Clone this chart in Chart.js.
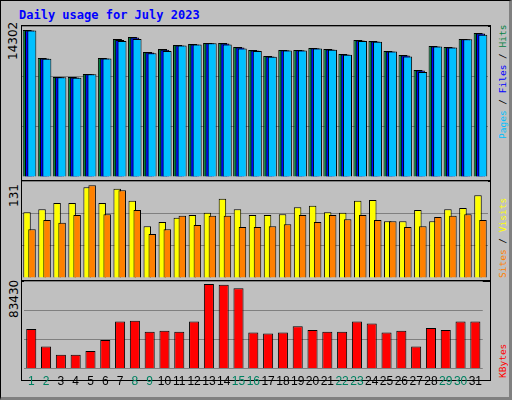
<!DOCTYPE html>
<html>
<head>
<meta charset="utf-8">
<script src="https://cdn.jsdelivr.net/npm/chart.js@4"></script>
<style>
  body { margin: 0; background: #fff; }
  #frame {
    position: absolute; left: 0; top: 0; width: 508px; height: 396px;
    background: #c0c0c0; border: 1px solid #000;
    border-right: 3px solid #808080; border-bottom: 3px solid #808080;
  }
  .panel { position: absolute; left: 20px; width: 470px; border: 1px solid #000; box-sizing: border-box; }
  canvas { position: absolute; }
  .title { position: absolute; left: 18px; top: 7px; font: bold 12px "DejaVu Sans Mono", monospace; color: #0000ff; }
  .vlab { position: absolute; transform: rotate(-90deg); transform-origin: left top; white-space: nowrap;
          font: 9.5px "DejaVu Sans Mono", monospace; }
</style>
</head>
<body>
<div id="frame">
  <div class="title">Daily usage for July 2023</div>
  <div class="panel" style="top:24px;height:157px;border-top-width:2px"></div>
  <div class="panel" style="top:179px;height:102px;border-top-width:2px"></div>
  <div class="panel" style="top:279px;height:101px;border-top-width:2px"></div>
  <div class="vlab" style="left:5px;top:59px;font-family:'DejaVu Sans';font-size:12px">14302</div>
  <div class="vlab" style="left:6px;top:206px;font-family:'DejaVu Sans';font-size:12px">131</div>
  <div class="vlab" style="left:6px;top:317px;font-family:'DejaVu Sans';font-size:12px">83430</div>
  <div class="vlab" style="left:496px;top:138px"><span style="color:#00c0ff">Pages</span> / <span style="color:#0000ff">Files</span> / <span style="color:#008040">Hits</span></div>
  <div class="vlab" style="left:496px;top:277px"><span style="color:#ff8000">Sites</span> / <span style="color:#ffff00">Visits</span></div>
  <div class="vlab" style="left:496px;top:377px;color:#ff0000">KBytes</div>
</div>
<canvas id="c1" style="left:22px;top:26px" width="466" height="151"></canvas>
<canvas id="c2" style="left:22px;top:181px" width="466" height="97"></canvas>
<canvas id="c3" style="left:22px;top:281px" width="466" height="114"></canvas>
<script>
const days = Array.from({ length: 31 }, (_, i) => String(i + 1));
const weekends = [1, 2, 8, 9, 15, 16, 22, 23, 29, 30];

const hits = [14302, 11580, 9730, 9730, 10020, 11580, 13430, 13620, 12160, 12450, 12840, 12940, 13040, 13040, 12650, 12360,
  11770, 12360, 12360, 12550, 12450, 11970, 13330, 13230, 12260, 11870, 10410, 12750, 12650, 13430, 14010];
const files = [14250, 11520, 9700, 9690, 9990, 11540, 13330, 13560, 12100, 12390, 12800, 12900, 13000, 12990, 12600, 12300,
  11720, 12320, 12320, 12520, 12410, 11920, 13270, 13180, 12220, 11830, 10350, 12700, 12600, 13390, 13950];
const pages = [14250, 11500, 9700, 9650, 9990, 11520, 13230, 13430, 12050, 12260, 12800, 12880, 13000, 12900, 12500, 12250,
  11700, 12300, 12300, 12500, 12380, 11900, 13230, 13150, 12200, 11720, 10220, 12700, 12600, 13390, 13850];
const visits = [93, 97, 106, 106, 128, 106, 126, 109, 73, 79, 85, 89, 92, 112, 97, 89, 89, 90, 100, 102, 93, 92, 109, 110,
  80, 80, 96, 80, 97, 99, 117];
const sites = [69, 82, 78, 89, 131, 90, 124, 96, 62, 69, 88, 75, 88, 88, 72, 72, 73, 76, 89, 79, 89, 83, 89, 82, 80, 72,
  73, 86, 88, 90, 82];
const kbytes = [39100, 21800, 13700, 13700, 17300, 28200, 46400, 47300, 36400, 37300, 36400, 46400, 83430, 82800, 79200,
  35500, 34600, 35500, 41900, 38200, 36400, 36400, 46400, 44600, 35500, 37300, 21800, 40000, 38200, 46400, 46400];

// webalizer draws the series of a day overlapping, each a few pixels to the right
const shiftBars = {
  id: 'shiftBars',
  afterDatasetsUpdate(chart) {
    chart.data.datasets.forEach((ds, i) => {
      chart.getDatasetMeta(i).data.forEach(el => { el.x += ds.dx || 0; });
    });
  }
};

function yAxis(max) {
  return {
    min: 0, max: max, border: { display: false },
    ticks: { display: false, stepSize: max / 3 },
    grid: { color: '#808080', lineWidth: 1, drawTicks: false }
  };
}

function bar(data, color, order, pct, dx) {
  return { data: data, backgroundColor: color, borderColor: '#000', borderWidth: 1, order: order,
           barPercentage: pct, dx: dx };
}

function makeChart(id, datasets, max, showX) {
  new Chart(document.getElementById(id), {
    type: 'bar',
    data: { labels: days, datasets: datasets },
    plugins: [shiftBars],
    options: {
      responsive: false, animation: false,
      categoryPercentage: 1, grouped: false,
      layout: { padding: 0 },
      plugins: { legend: { display: false }, tooltip: { enabled: false } },
      scales: {
        x: {
          border: { display: false }, grid: { display: false, drawTicks: false },
          ticks: {
            display: showX, autoSkip: false, maxRotation: 0, padding: 6,
            font: { family: 'Liberation Sans', size: 12 },
            color: ctx => weekends.includes(ctx.index + 1) ? '#008060' : '#000'
          }
        },
        y: yAxis(max)
      }
    }
  });
}

makeChart('c1', [
  bar(hits, '#008040', 2, 0.6, -2.3),
  bar(files, '#0000ff', 1, 0.6, 0),
  bar(pages, '#00c0ff', 0, 0.6, 2.3)
], 14690, false);

makeChart('c2', [
  bar(visits, '#ffff00', 1, 0.5, -2.5),
  bar(sites, '#ff8000', 0, 0.5, 2.5)
], 137, false);

makeChart('c3', [
  bar(kbytes, '#ff0000', 0, 0.68, 0)
], 86430, true);
</script>
</body>
</html>
